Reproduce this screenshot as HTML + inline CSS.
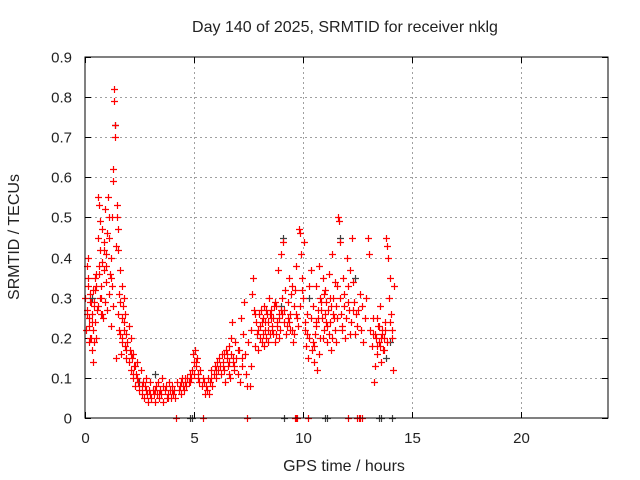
<!DOCTYPE html>
<html><head><meta charset="utf-8"><style>
body{margin:0;background:#fff}
svg{display:block;font-family:"Liberation Sans",sans-serif}
text{fill:#222}
</style></head><body>
<svg id="chart" width="640" height="480">
<rect width="640" height="480" fill="#fff"/>
<text x="345" y="32" text-anchor="middle" font-size="16">Day 140 of 2025, SRMTID for receiver nklg</text>
<text x="344" y="471" text-anchor="middle" font-size="16">GPS time / hours</text>
<text transform="translate(19,237) rotate(-90)" text-anchor="middle" font-size="16">SRMTID / TECUs</text>
<g id="grid"></g><g id="marks"></g>
<rect x="85" y="57" width="523" height="361" fill="none" stroke="#000"/>
</svg>
<script>
const xTicks=[0,5,10,15,20];
const yTicks=[0,0.1,0.2,0.3,0.4,0.5,0.6,0.7,0.8,0.9];
const redT=[0.02,0.05,0.08,0.1,0.12,0.15,0.18,0.2,0.22,0.25,0.28,0.3,0.32,0.35,0.38,0.4,0.42,0.45,0.48,0.5,0.52,0.55,0.58,0.6,0.62,0.65,0.68,0.7,0.72,0.75,0.78,0.8,0.82,0.85,0.88,0.9,0.92,0.95,0.98,1.0,1.02,1.05,1.08,1.1,1.12,1.15,1.18,1.2,1.22,1.25,1.28,1.3,1.32,1.35,1.37,1.38,1.4,1.42,1.45,1.48,1.5,1.52,1.55,1.58,1.6,1.62,1.65,1.68,1.7,1.72,1.75,1.78,1.8,1.82,1.85,1.88,1.9,1.95,2.0,2.02,2.05,2.1,2.12,2.15,2.2,2.22,2.25,2.3,2.35,2.4,2.45,2.5,2.55,2.6,2.65,2.7,2.75,2.8,2.85,2.9,2.95,3.0,3.05,3.1,3.15,3.2,3.25,3.3,3.35,3.4,3.45,3.5,3.55,3.6,3.65,3.7,3.75,3.8,3.85,3.9,3.95,4.0,4.05,4.1,4.15,4.2,4.3,4.35,4.4,4.45,4.5,4.55,4.6,4.65,4.7,4.75,4.8,4.85,4.9,4.95,5.0,5.05,5.1,5.15,5.2,5.25,5.3,5.35,5.4,5.45,5.5,5.55,5.6,5.65,5.7,5.75,5.8,5.85,5.9,5.95,6.0,6.05,6.1,6.15,6.2,6.25,6.3,6.35,6.4,6.45,6.5,6.55,6.6,6.65,6.7,6.75,6.8,6.85,6.9,6.95,7.0,7.05,7.1,7.15,7.2,7.25,7.3,7.35,7.4,7.45,7.5,7.55,7.6,7.65,7.7,7.75,7.8,7.85,7.9,7.95,8.0,8.05,8.1,8.15,8.2,8.25,8.3,8.35,8.4,8.45,8.5,8.55,8.6,8.65,8.7,8.75,8.8,8.85,8.9,8.95,9.0,9.05,9.1,9.15,9.2,9.25,9.3,9.35,9.4,9.45,9.5,9.55,9.6,9.65,9.7,9.75,9.8,9.85,9.9,9.95,10.0,10.05,10.1,10.15,10.2,10.25,10.3,10.35,10.4,10.45,10.5,10.55,10.6,10.65,10.7,10.75,10.8,10.85,10.9,10.95,11.0,11.05,11.1,11.15,11.2,11.25,11.3,11.35,11.4,11.45,11.5,11.55,11.6,11.65,11.7,11.75,11.8,11.85,11.9,11.95,12.0,12.05,12.1,12.15,12.2,12.25,12.3,12.35,12.4,12.45,12.5,12.55,12.6,12.65,12.7,12.75,12.85,12.9,13.0,13.05,13.1,13.15,13.2,13.25,13.3,13.35,13.4,13.45,13.5,13.55,13.6,13.65,13.7,13.75,13.8,13.85,13.9,13.95,14.0,14.05,14.1,14.15,14.2,
8.02,8.12,8.22,8.32,8.42,8.52,8.62,8.72,8.82,8.92,9.02,9.12,9.22,9.32,9.42,10.52,10.62,10.72,10.82,10.92,11.02,11.12,11.22,11.32,11.42,11.52,13.32,13.42,13.52,13.62,13.72,0.12,0.22,0.32,0.42,0.52,0.62,0.72,6.32,6.42,6.52,6.62,6.72,6.82,
7.92,8.08,8.18,8.28,8.38,8.48,8.58,8.68,8.78,8.88,8.98,9.38,9.48,9.58,9.68,9.78,9.88,9.98,10.08,10.18,10.28,10.38,10.48,10.58,10.68,10.78,10.88,10.98,11.08,11.18,11.28,11.38,11.48,11.58,11.68,11.78,11.88,11.98,12.08,12.18,12.28,13.22,13.38,13.48,13.58,13.68,13.78,13.88,13.98,14.08,0.08,0.18,0.28,0.38,0.48,0.58,0.68,0.78,0.88,0.98,1.08,1.18,1.28,1.5,1.6,1.7,1.8,1.9,2.1,2.2,2.3,2.4,2.6,2.8,3.0,3.2,3.4,3.6,3.8,4.0,4.4,4.6,4.8,5.0,5.1,5.2,5.6,5.8,6.0,6.2,6.4,6.6,6.8,7.0,7.2,7.6,7.8];
const redV=[0.30,0.22,0.38,0.27,0.33,0.40,0.25,0.19,0.29,0.31,0.20,0.17,0.26,0.14,0.22,0.28,0.19,0.32,0.24,0.36,0.20,0.27,0.45,0.55,0.53,0.38,0.42,0.49,0.33,0.30,0.39,0.47,0.25,0.37,0.44,0.52,0.29,0.41,0.34,0.46,0.27,0.55,0.50,0.45,0.31,0.36,0.23,0.40,0.33,0.50,0.62,0.59,0.79,0.82,0.73,0.70,0.43,0.15,0.50,0.53,0.47,0.42,0.31,0.22,0.37,0.29,0.16,0.25,0.33,0.20,0.28,0.22,0.30,0.18,0.26,0.21,0.15,0.19,0.23,0.14,0.17,0.12,0.20,0.15,0.10,0.16,0.13,0.08,0.11,0.14,0.09,0.07,0.12,0.06,0.09,0.05,0.08,0.10,0.06,0.04,0.07,0.09,0.05,0.07,0.06,0.04,0.08,0.06,0.09,0.05,0.07,0.06,0.10,0.04,0.07,0.08,0.05,0.06,0.09,0.07,0.05,0.08,0.06,0.07,0.05,0.09,0.07,0.08,0.06,0.10,0.08,0.07,0.09,0.08,0.10,0.09,0.11,0.10,0.12,0.16,0.14,0.17,0.13,0.15,0.11,0.09,0.12,0.08,0.10,0.09,0.06,0.08,0.07,0.10,0.06,0.09,0.12,0.08,0.11,0.13,0.10,0.14,0.12,0.15,0.13,0.11,0.16,0.14,0.12,0.17,0.15,0.13,0.18,0.10,0.16,0.24,0.14,0.12,0.19,0.15,0.11,0.17,0.09,0.25,0.13,0.21,0.29,0.16,0.11,0.08,0.19,0.08,0.22,0.31,0.35,0.27,0.18,0.24,0.21,0.17,0.26,0.23,0.19,0.25,0.28,0.22,0.20,0.26,0.24,0.30,0.21,0.27,0.23,0.25,0.19,0.28,0.24,0.37,0.26,0.22,0.41,0.30,0.44,0.27,0.32,0.23,0.29,0.35,0.26,0.31,0.22,0.19,0.28,0.32,0.38,0.25,0.47,0.46,0.41,0.35,0.30,0.44,0.22,0.18,0.26,0.15,0.20,0.37,0.17,0.28,0.14,0.21,0.33,0.12,0.25,0.38,0.30,0.27,0.35,0.22,0.32,0.29,0.19,0.27,0.36,0.24,0.17,0.41,0.30,0.22,0.28,0.33,0.50,0.49,0.44,0.26,0.22,0.35,0.31,0.20,0.40,0.33,0.27,0.37,0.24,0.45,0.34,0.29,0.21,0.26,0.23,0.27,0.31,0.22,0.28,0.19,0.25,0.30,0.45,0.41,0.22,0.18,0.25,0.09,0.13,0.20,0.16,0.23,0.19,0.28,0.14,0.21,0.17,0.24,0.45,0.43,0.40,0.30,0.35,0.26,0.20,0.12,0.33,
0.20,0.24,0.18,0.27,0.22,0.25,0.21,0.29,0.23,0.20,0.26,0.24,0.21,0.25,0.22,0.18,0.24,0.16,0.29,0.20,0.26,0.23,0.30,0.20,0.25,0.19,0.21,0.25,0.18,0.22,0.20,0.35,0.20,0.24,0.29,0.33,0.36,0.26,0.13,0.09,0.16,0.11,0.20,0.13,
0.22,0.27,0.21,0.24,0.19,0.26,0.22,0.28,0.21,0.25,0.27,0.24,0.33,0.21,0.26,0.23,0.28,0.32,0.24,0.21,0.33,0.25,0.19,0.23,0.27,0.20,0.25,0.31,0.24,0.21,0.28,0.26,0.34,0.25,0.30,0.23,0.28,0.25,0.29,0.21,0.27,0.21,0.18,0.23,0.20,0.17,0.22,0.19,0.24,0.22,0.26,0.23,0.29,0.32,0.35,0.28,0.30,0.26,0.42,0.38,0.31,0.35,0.28,0.26,0.21,0.19,0.24,0.17,0.16,0.11,0.13,0.10,0.08,0.07,0.06,0.07,0.06,0.08,0.05,0.07,0.09,0.10,0.09,0.11,0.14,0.10,0.07,0.10,0.12,0.13,0.16,0.14,0.15,0.17,0.15,0.13,0.26];
const grayT=[0.3,1.37,2.5,3.2,9.0,9.1,10.3,11.7,12.4,13.8,14.0];
const grayV=[0.30,0.73,0.09,0.11,0.28,0.45,0.30,0.45,0.35,0.15,0.19];
const zeroRedT=[4.18,5.42,7.43,9.62,9.68,9.75,10.23,12.07,12.5,12.56,12.62,12.7];
const zeroGrayT=[4.82,4.91,9.13,11.0,11.1,13.5,13.58,14.09];
const X0=85,X1=608,Y0=418,Y1=57,XMAX=24,YMAX=0.9;
const sx=v=>X0+v/XMAX*(X1-X0), sy=v=>Y0-v/YMAX*(Y0-Y1);
const NS='http://www.w3.org/2000/svg';
const grid=document.getElementById('grid'), marks=document.getElementById('marks');
function mk(tag,attrs,parent){const e=document.createElementNS(NS,tag);for(const k in attrs)e.setAttribute(k,attrs[k]);parent.appendChild(e);return e;}
yTicks.forEach(v=>{const y=Math.round(sy(v))+0.5;
 if(v>0&&v<YMAX){const g=mk('line',{x1:X0,x2:X1,y1:y,y2:y,stroke:'#a0a0a0','stroke-dasharray':'2,3'},grid);
 
 }
 mk('line',{x1:X0,x2:X0+6,y1:y,y2:y,stroke:'#000'},grid);
 mk('line',{x1:X1-6,x2:X1,y1:y,y2:y,stroke:'#000'},grid);
 const t=mk('text',{x:72,y:y+5,'text-anchor':'end','font-size':15},grid);t.textContent=String(v);
 
 });
xTicks.forEach(v=>{const x=Math.round(sx(v))+0.5;
 if(v>0){const g=mk('line',{x1:x,x2:x,y1:Y1,y2:Y0,stroke:'#a0a0a0','stroke-dasharray':'2,3'},grid);
 
 }
 mk('line',{x1:x,x2:x,y1:Y0-6,y2:Y0,stroke:'#000'},grid);
 mk('line',{x1:x,x2:x,y1:Y1,y2:Y1+6,stroke:'#000'},grid);
 const t=mk('text',{x:x,y:443,'text-anchor':'middle','font-size':15},grid);t.textContent=String(v);
 
 });
function plus(ts,vs,col,name){let d='';ts.forEach((t,i)=>{const x=Math.round(sx(t))+0.5,y=Math.round(sy(vs[i]))+0.5;d+=`M${x-3.5} ${y}h7M${x} ${y-3.5}v7`;});
 const p=mk('path',{d:d,stroke:col,'stroke-width':1.2,fill:'none'},marks);
 
 }
plus(grayT,grayV,'#404040','gray-points');
plus(redT,redV,'#ff0000','srmtid-points');
plus(zeroGrayT,zeroGrayT.map(()=>0),'#404040','gray-zero-points');
plus(zeroRedT,zeroRedT.map(()=>0),'#ff0000','red-zero-points');
</script>
</body></html>
